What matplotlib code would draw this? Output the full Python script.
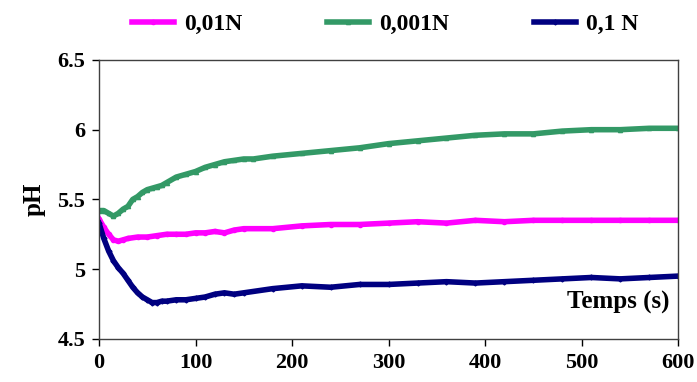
import numpy as np
import matplotlib
matplotlib.use('Agg')
import matplotlib.pyplot as plt

plt.rcParams['font.family'] = ['Liberation Serif', 'DejaVu Serif']
plt.rcParams['font.weight'] = 'bold'

# temps (s)
t_001 = [0, 5, 10, 15, 20, 25, 30, 35, 40, 45, 50, 55, 60, 65, 70, 80, 90, 100,
         110, 120, 130, 140, 150, 160, 180, 210, 240, 270, 300, 330, 360, 390,
         420, 450, 480, 510, 540, 570, 600]
ph_0001 = [5.42, 5.42, 5.40, 5.38, 5.40, 5.43, 5.45, 5.50, 5.52, 5.55, 5.57, 5.58,
           5.59, 5.60, 5.62, 5.66, 5.68, 5.70, 5.73, 5.75, 5.77, 5.78, 5.79, 5.79,
           5.81, 5.83, 5.85, 5.87, 5.90, 5.92, 5.94, 5.96, 5.97, 5.97, 5.99, 6.00,
           6.00, 6.01, 6.01]

t_01 = [0, 5, 10, 15, 20, 25, 30, 40, 50, 60, 70, 80, 90, 100, 110, 120, 130,
        140, 150, 180, 210, 240, 270, 300, 330, 360, 390, 420, 450, 480, 510,
        540, 570, 600]
ph_001 = [5.36, 5.30, 5.25, 5.21, 5.20, 5.21, 5.22, 5.23, 5.23, 5.24, 5.25, 5.25,
          5.25, 5.26, 5.26, 5.27, 5.26, 5.28, 5.29, 5.29, 5.31, 5.32, 5.32, 5.33,
          5.34, 5.33, 5.35, 5.34, 5.35, 5.35, 5.35, 5.35, 5.35, 5.35]

t_1 = [0, 5, 10, 15, 20, 25, 30, 35, 40, 45, 50, 55, 60, 65, 70, 80, 90, 100,
       110, 120, 130, 140, 150, 180, 210, 240, 270, 300, 330, 360, 390, 420,
       450, 480, 510, 540, 570, 600]
ph_01 = [5.33, 5.22, 5.13, 5.06, 5.01, 4.97, 4.92, 4.87, 4.83, 4.80, 4.78, 4.76,
         4.76, 4.77, 4.77, 4.78, 4.78, 4.79, 4.80, 4.82, 4.83, 4.82, 4.83, 4.86,
         4.88, 4.87, 4.89, 4.89, 4.90, 4.91, 4.90, 4.91, 4.92, 4.93, 4.94, 4.93,
         4.94, 4.95]

fig = plt.figure(figsize=(6.97, 3.82), dpi=100)
ax = fig.add_axes([0.142, 0.113, 0.831, 0.730])

ax.plot(t_01, ph_001, '-o', color='#ff00ff', lw=4, ms=3, label='0,01N')
ax.plot(t_001, ph_0001, '-^', color='#339966', lw=4, ms=3, label='0,001N')
ax.plot(t_1, ph_01, '-D', color='#000080', lw=4, ms=2.5, label='0,1 N')

ax.set_xlim(0, 600)
ax.set_ylim(4.5, 6.5)
ax.set_xticks([0, 100, 200, 300, 400, 500, 600])
ax.set_yticks([4.5, 5, 5.5, 6, 6.5])
ax.set_yticklabels(['4.5', '5', '5.5', '6', '6.5'])
ax.tick_params(direction='out', length=5, width=1, labelsize=16, pad=5)
for lbl in ax.get_xticklabels() + ax.get_yticklabels():
    lbl.set_fontweight('bold')
for sp in ax.spines.values():
    sp.set_color('#404040')
    sp.set_linewidth(1)

ax.set_ylabel('pH', fontsize=18, fontweight='bold', labelpad=8)
ax.text(0.985, 0.13, 'Temps (s)', transform=ax.transAxes, ha='right', va='center',
        fontsize=18, fontweight='bold')

fig.legend(loc='upper center', bbox_to_anchor=(0.553, 1.02), ncol=3, frameon=False,
           handlelength=1.75, columnspacing=3.6, handletextpad=0.45,
           prop={'weight': 'bold', 'size': 17})

fig.savefig('out.png', dpi=100, facecolor='white')
